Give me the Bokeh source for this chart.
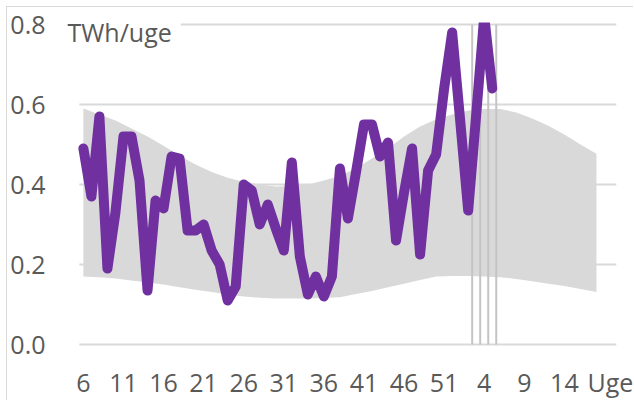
from bokeh.plotting import figure
from bokeh.models import Range1d, FixedTicker, Label, PrintfTickFormatter
from bokeh.embed import file_html
from bokeh.resources import INLINE

# ---- data -------------------------------------------------------------
# weeks shown on the category axis (index 0 = week 6)
line_weeks = list(range(6, 53)) + list(range(1, 6))
consumption = [0.49, 0.37, 0.57, 0.19, 0.33, 0.52, 0.52, 0.41, 0.135, 0.36,
               0.34, 0.47, 0.465, 0.285, 0.285, 0.30, 0.235, 0.20, 0.11, 0.145,
               0.40, 0.385, 0.30, 0.35, 0.29, 0.235, 0.455, 0.22, 0.125, 0.17,
               0.12, 0.17, 0.44, 0.315, 0.43, 0.55, 0.55, 0.47, 0.505, 0.26,
               0.38, 0.49, 0.225, 0.435, 0.475, 0.64, 0.78, 0.56, 0.335, 0.575,
               0.82, 0.64]

# min/max band, read at every second category (index 0, 2, ..., 64)
band_index = list(range(0, 65, 2))
band_upper = [0.59, 0.575, 0.56, 0.54, 0.52, 0.497, 0.472, 0.45, 0.431, 0.417,
              0.407, 0.40, 0.395, 0.396, 0.40, 0.41, 0.422, 0.44, 0.465, 0.49,
              0.52, 0.545, 0.563, 0.575, 0.585, 0.589, 0.589, 0.58, 0.565, 0.547,
              0.525, 0.50, 0.477]
band_lower = [0.17, 0.168, 0.165, 0.16, 0.155, 0.15, 0.143, 0.137, 0.131, 0.125,
              0.12, 0.117, 0.115, 0.115, 0.115, 0.116, 0.118, 0.126, 0.134, 0.143,
              0.152, 0.161, 0.17, 0.171, 0.171, 0.17, 0.168, 0.164, 0.158, 0.152,
              0.146, 0.139, 0.131]

separators = [48.5, 49.5, 50.5, 51.5]

tick_labels = ["6", "11", "16", "21", "26", "31", "36", "41", "46", "51",
               "4", "9", "14", "Uge"]
tick_index = [0, 5, 10, 15, 20, 25, 30, 35, 40, 45, 50, 55, 60, 65.75]
y_ticks = [0.0, 0.2, 0.4, 0.6, 0.8]
unit_label = "TWh/uge"

# ---- figure -----------------------------------------------------------
FONT = "Open Sans"
TXT = "#595959"
X_START, X_END = -0.5, 66.5   # category span of the plot area
X_VIEW_START = -2.48          # room for the unit label left of the categories

p = figure(width=627, height=394, output_backend="svg", toolbar_location=None,
           x_range=Range1d(X_VIEW_START, X_END), y_range=Range1d(-0.005, 0.805),
           min_border_left=52, min_border_right=18, min_border_top=15,
           min_border_bottom=55, margin=(6, 0, 0, 6),
           styles={"border-top": "1px solid #d9d9d9",
                   "border-left": "1px solid #d9d9d9"})
p.outline_line_color = None
p.background_fill_color = "white"
p.border_fill_color = "white"
p.xgrid.grid_line_color = None
p.ygrid.grid_line_color = None

# horizontal gridlines over the category span
p.segment(x0=[X_START] * len(y_ticks), y0=y_ticks, x1=[X_END] * len(y_ticks),
          y1=y_ticks, line_color="#d9d9d9", line_width=2)

x_line = list(range(len(consumption)))

p.varea(x=band_index, y1=band_lower, y2=band_upper, fill_color="#d9d9d9")
p.segment(x0=separators, y0=[0] * len(separators), x1=separators,
          y1=[y_ticks[-1]] * len(separators), line_color="#c4c4c4", line_width=2)
p.line(x_line, consumption, line_color="#7030a0", line_width=10,
       line_join="round", line_cap="round")

p.xaxis.ticker = FixedTicker(ticks=tick_index)
p.xaxis.major_label_overrides = {tp: lab for tp, lab in zip(tick_index, tick_labels)}
p.yaxis.ticker = FixedTicker(ticks=y_ticks)
p.yaxis.formatter = PrintfTickFormatter(format="%.1f")

for ax in (p.xaxis[0], p.yaxis[0]):
    ax.axis_line_color = None
    ax.major_tick_line_color = None
    ax.minor_tick_line_color = None
    ax.major_label_text_font = FONT
    ax.major_label_text_font_size = "25px"
    ax.major_label_text_color = TXT
p.xaxis.major_label_standoff = 12
p.yaxis.major_label_standoff = 12

lab = Label(x=X_VIEW_START, y=0.7825, text=unit_label, text_font=FONT,
            text_font_size="25px", text_color=TXT, text_baseline="middle",
            background_fill_color="white",
            padding=dict(left=4, right=9, top=6, bottom=6))
p.add_layout(lab)

open("out.html", "w").write(file_html(p, INLINE))
